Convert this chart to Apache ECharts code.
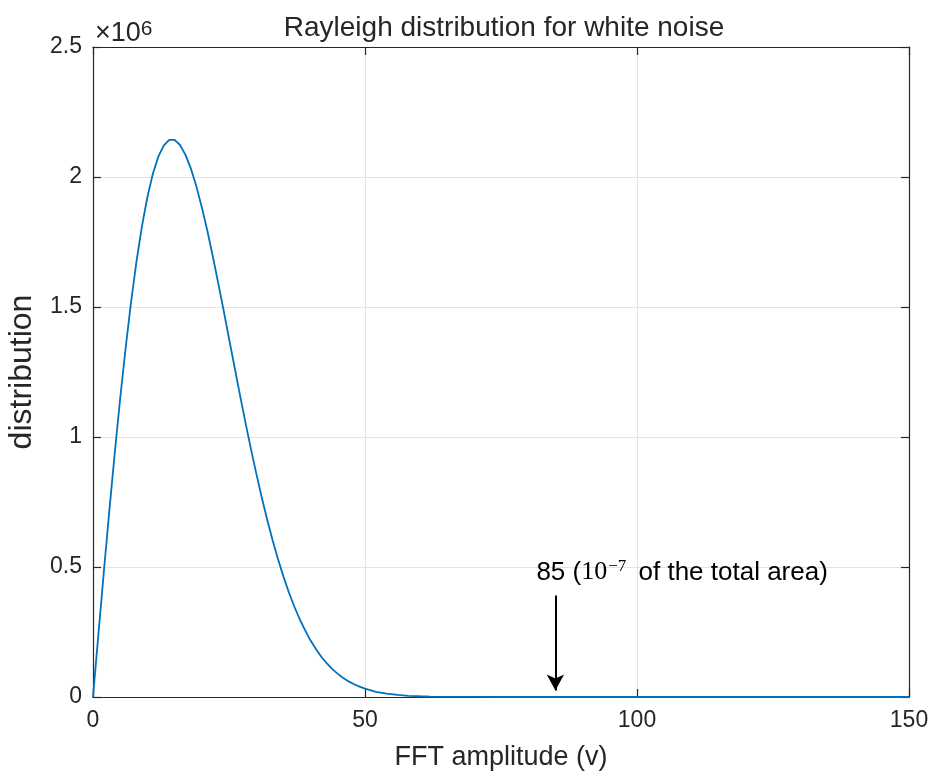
<!DOCTYPE html>
<html>
<head>
<meta charset="utf-8">
<script src="https://cdn.jsdelivr.net/npm/echarts@6/dist/echarts.min.js"></script>
<style>
html,body{margin:0;padding:0;background:#fff;}
#chart{width:932px;height:780px;}
</style>
</head>
<body>
<div id="chart"></div>
<script>
// FFT amplitude (v) sample positions
const amplitude = [0, 1, 2, 3, 4, 5, 6, 7, 8, 9, 10, 11, 12, 13, 14, 15, 16, 17, 18, 19, 20, 21, 22, 23, 24, 25, 26, 27, 28, 29, 30, 31, 32, 33, 34, 35, 36, 37, 38, 39, 40, 41, 42, 43, 44, 45, 46, 47, 48, 49, 50, 52, 54, 56, 58, 60, 62, 65, 70, 75, 80, 90, 100, 110, 120, 130, 140, 150];
// distribution values, in units of 1e6
const distribution = [0, 0.243, 0.483, 0.716, 0.939, 1.149, 1.343, 1.520, 1.676, 1.811, 1.923, 2.012, 2.078, 2.121, 2.143, 2.143, 2.123, 2.085, 2.032, 1.964, 1.884, 1.795, 1.697, 1.594, 1.488, 1.379, 1.271, 1.163, 1.058, 0.957, 0.861, 0.769, 0.684, 0.604, 0.531, 0.464, 0.403, 0.348, 0.299, 0.256, 0.217, 0.184, 0.154, 0.129, 0.107, 0.089, 0.073, 0.060, 0.049, 0.040, 0.032, 0.020, 0.013, 0.008, 0.0047, 0.0028, 0.0016, 0.0007, 0.00015, 0.00003, 0, 0, 0, 0, 0, 0, 0, 0];
const xTicks = [0, 50, 100, 150];
const yTicks = [0, 0.5, 1, 1.5, 2, 2.5];
const annotationX = 85;
const arrowTop = 0.39;
const arrowTip = 0.025;

const titleText = 'Rayleigh distribution for white noise';
const xName = 'FFT amplitude (v)';
const yName = 'distribution';
const yMultiplier = '×10{sup|6}';
const annotationText = '85 ({m|10}{sup|−7} of the total area)';

const axisColor = '#262626';
const gridColor = '#e3e3e3';
const font = 'Liberation Sans, Arial, Helvetica, sans-serif';

const gridLeft = 93, gridRight = 23, gridTop = 47, gridBottom = 83;
const W = 932;

const chart = echarts.init(document.getElementById('chart'), null, {renderer: 'canvas'});

const seriesData = amplitude.map((x, i) => [x, distribution[i]]);

const baseX = {
  type: 'value', min: xTicks[0], max: xTicks[xTicks.length - 1], interval: 50,
  axisLine: {show: true, onZero: false, lineStyle: {color: axisColor, width: 1.2}},
  axisTick: {show: true, inside: true, length: 8, lineStyle: {color: axisColor, width: 1.2}},
};
const baseY = {
  type: 'value', min: yTicks[0], max: yTicks[yTicks.length - 1], interval: 0.5,
  axisLine: {show: true, onZero: false, lineStyle: {color: axisColor, width: 1.2}},
  axisTick: {show: true, inside: true, length: 8, lineStyle: {color: axisColor, width: 1.2}},
};

chart.setOption({
  backgroundColor: '#ffffff',
  animation: false,
  title: {
    text: titleText,
    left: gridLeft + (W - gridLeft - gridRight) / 2 - 2,
    textAlign: 'center',
    top: 9,
    textStyle: {fontFamily: font, fontSize: 28, fontWeight: 'normal', color: '#262626'}
  },
  grid: {left: gridLeft, right: gridRight, top: gridTop, bottom: gridBottom, containLabel: false, outerBoundsMode: 'none'},
  xAxis: [
    Object.assign({}, baseX, {
      position: 'bottom',
      name: xName, nameLocation: 'middle', nameGap: 47,
      nameTextStyle: {fontFamily: font, fontSize: 27, color: '#262626'},
      axisLabel: {show: true, margin: 12, fontFamily: font, fontSize: 23, color: '#262626'},
      splitLine: {show: true, lineStyle: {color: gridColor, width: 1}}
    }),
    Object.assign({}, baseX, {
      position: 'top',
      name: yMultiplier, nameLocation: 'start', nameGap: -2,
      nameTextStyle: {
        fontFamily: font, fontSize: 27, color: '#262626', align: 'left', verticalAlign: 'bottom',
        lineHeight: 30, padding: [0, 0, -2, 0],
        rich: {sup: {fontFamily: font, fontSize: 21, color: '#262626', verticalAlign: 'top', lineHeight: 16}}
      },
      axisLabel: {show: false},
      splitLine: {show: false}
    })
  ],
  yAxis: [
    Object.assign({}, baseY, {
      position: 'left',
      name: yName, nameLocation: 'middle', nameGap: 55,
      nameTextStyle: {fontFamily: font, fontSize: 32, color: '#262626'},
      axisLabel: {show: true, margin: 11, fontFamily: font, fontSize: 23, color: '#262626'},
      splitLine: {show: true, lineStyle: {color: gridColor, width: 1}}
    }),
    Object.assign({}, baseY, {
      position: 'right',
      axisLabel: {show: false},
      splitLine: {show: false}
    })
  ],
  series: [{
    type: 'line',
    xAxisIndex: 0, yAxisIndex: 0,
    data: seriesData,
    showSymbol: false,
    smooth: false,
    lineStyle: {color: '#0072BD', width: 1.8},
    z: 3,
    markLine: {
      silent: true,
      symbol: ['none', 'arrow'],
      symbolSize: [13, 16],
      label: {show: false},
      lineStyle: {color: '#000', width: 2, type: 'solid'},
      data: [[{coord: [annotationX, arrowTop]}, {coord: [annotationX, arrowTip]}]]
    },
    markPoint: {
      silent: true,
      symbol: 'circle', symbolSize: 0,
      data: [{coord: [annotationX, arrowTop]}],
      label: {
        show: true,
        position: [-19, -38],
        align: 'left',
        verticalAlign: 'top',
        formatter: annotationText,
        fontFamily: font, fontSize: 26, color: '#000', lineHeight: 30,
        rich: {
          m: {fontFamily: 'Liberation Serif, DejaVu Serif, serif', fontSize: 26, color: '#000', lineHeight: 30},
          sup: {fontFamily: 'Liberation Serif, DejaVu Serif, serif', fontSize: 17, color: '#000', verticalAlign: 'top', lineHeight: 17, padding: [0, 5, 0, 1]}
        }
      }
    }
  }, {
    type: 'line', xAxisIndex: 1, yAxisIndex: 1, data: [], showSymbol: false
  }]
});
</script>
</body>
</html>
